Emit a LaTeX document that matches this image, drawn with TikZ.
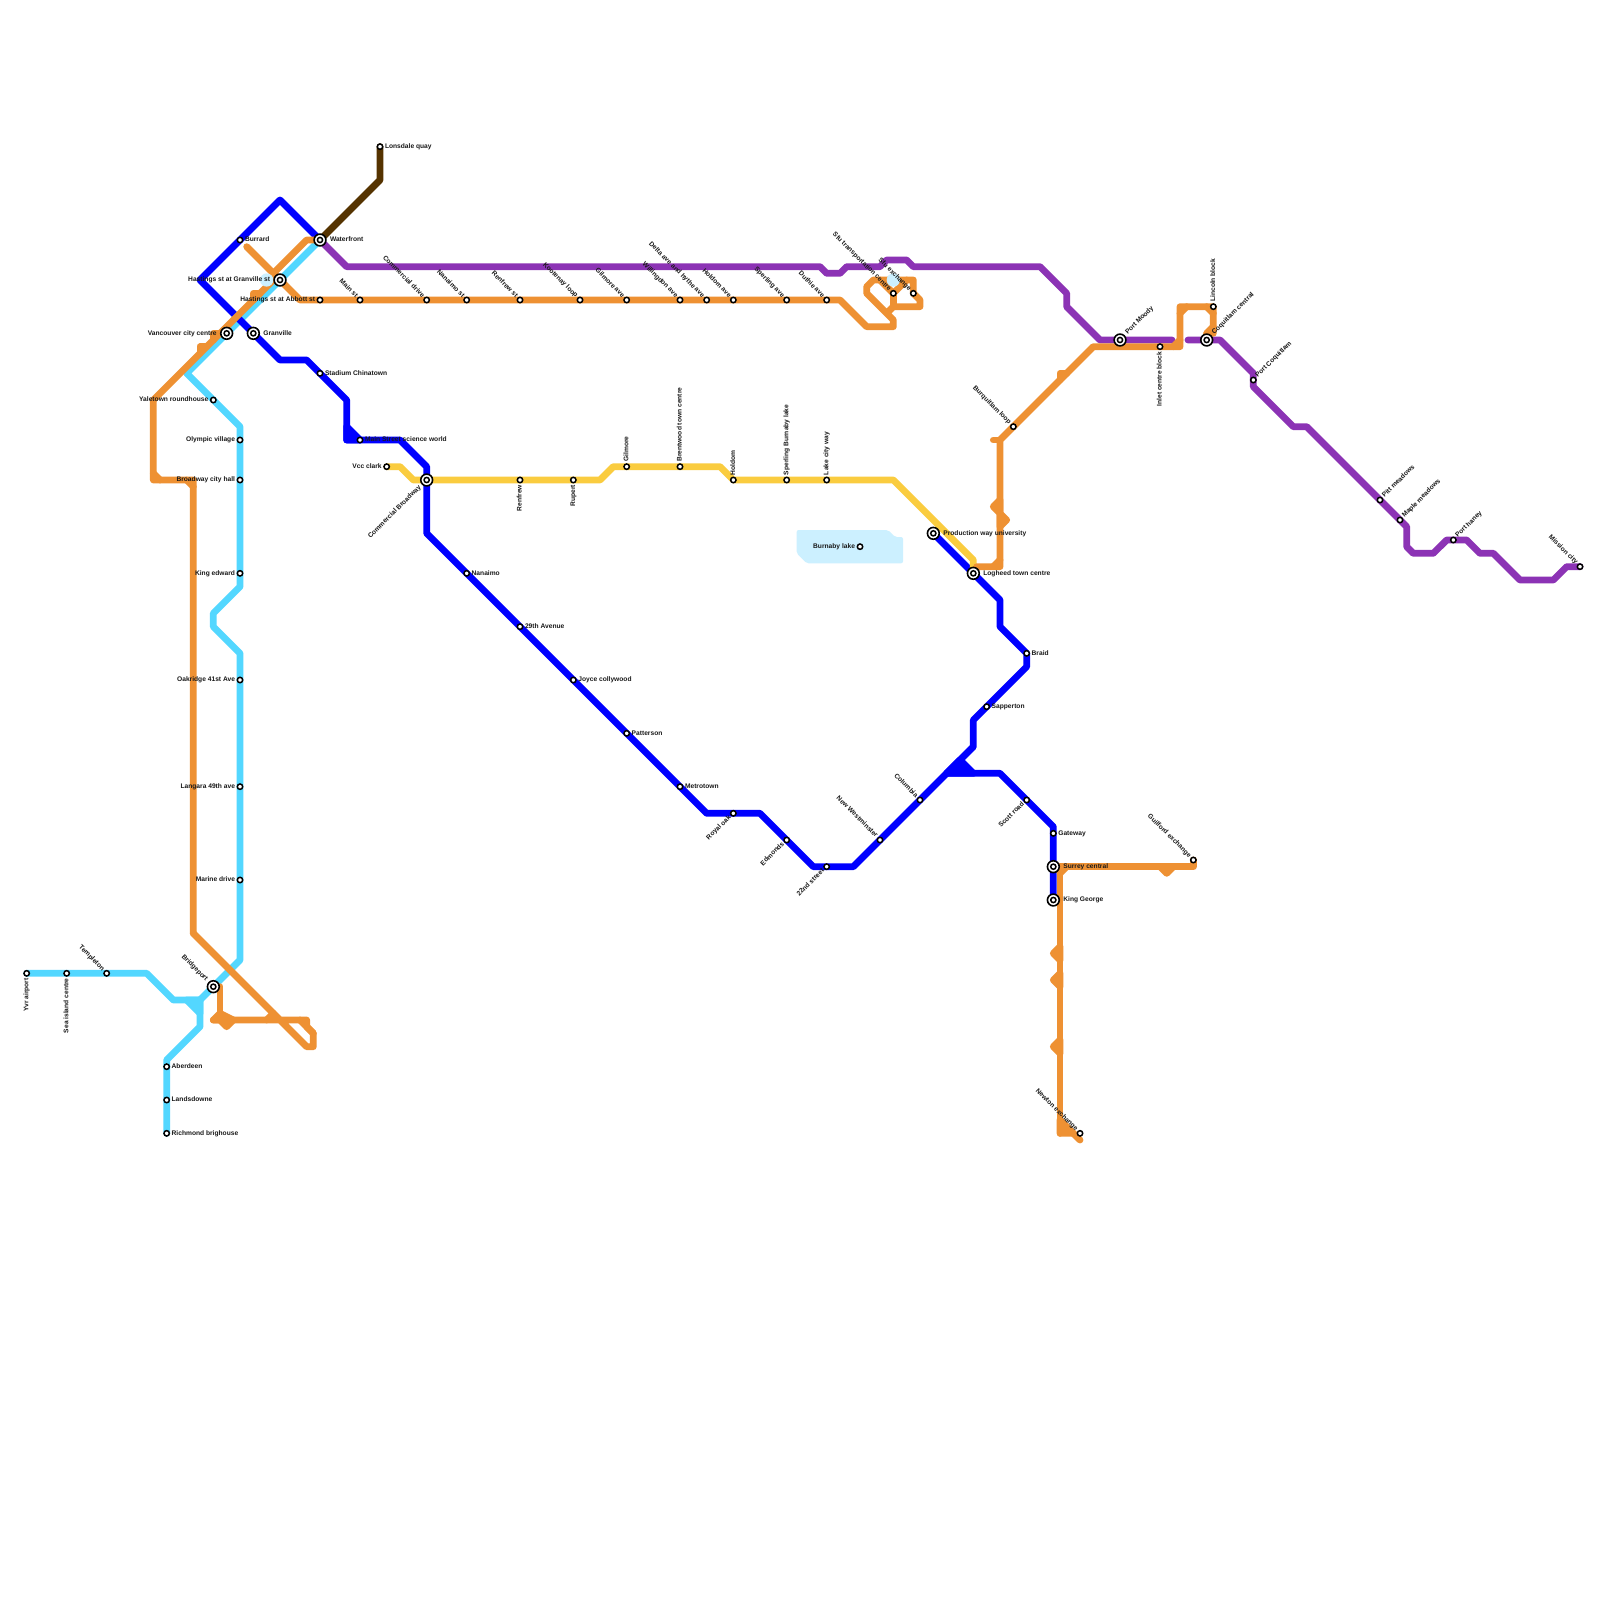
\documentclass[tikz,border=0pt]{standalone}
\usepackage{fontspec}
\setmainfont{Liberation Sans}
\definecolor{cCyan}{HTML}{53D7FF}
\definecolor{cBlue}{HTML}{0000FF}
\definecolor{cOrange}{HTML}{EE9133}
\definecolor{cYellow}{HTML}{FACC3F}
\definecolor{cPurple}{HTML}{8C33B5}
\definecolor{cBrown}{HTML}{553300}
\definecolor{cLake}{HTML}{CCF0FF}
\pgfdeclarelayer{lines}
\pgfsetlayers{lines,main}
\tikzset{
 metro/.style={line width=3.4pt,line cap=round,line join=round},
 stn/.style={circle,draw=black,fill=white,line width=.75pt,minimum size=2.7pt,inner sep=0pt,outer sep=0pt},
 bigstn/.style={circle,draw=black,fill=white,line width=.8pt,minimum size=5.9pt,inner sep=0pt,outer sep=0pt,
   path picture={\draw[line width=.75pt] (path picture bounding box.center) circle (1.3pt);}},
 lbl/.style={inner sep=0pt,outer sep=0pt,font=\bfseries\fontsize{3.33}{4}\selectfont,text height=2.4pt,text depth=.7pt,text=black!90},
 lE/.style={anchor=west,xshift=2.5pt},
 lW/.style={anchor=east,xshift=-2.5pt},
 lN/.style={yshift=2.5pt,rotate=90,anchor=west},
 lS/.style={yshift=-2.5pt,rotate=90,anchor=east},
 lNW/.style={shift={(-1.7pt,1.7pt)},rotate=-45,anchor=east},
 lSW/.style={shift={(-1.7pt,-1.7pt)},rotate=45,anchor=east},
 lNE/.style={shift={(1.7pt,1.7pt)},rotate=45,anchor=west},
 bE/.style={anchor=west,xshift=5pt},
 bW/.style={anchor=east,xshift=-5pt},
 bNW/.style={shift={(-3.3pt,3.3pt)},rotate=-45,anchor=east},
 bSW/.style={shift={(-3.3pt,-3.3pt)},rotate=45,anchor=east},
 bNE/.style={shift={(3.3pt,3.3pt)},rotate=45,anchor=west},
}
\newcommand\st[5][stn]{\node[#1] (#2) at (#3) {}; \node[lbl,#4] (#2-l) at (#2.center) {#5};}
\begin{document}
\begin{tikzpicture}[x=.5pt,y=-.5pt]
\useasboundingbox (0,0) rectangle (1600,1600);
% stations
\st{lonsdale}{380,146.67}{lE}{Lonsdale quay}
\st{burrard}{240,240}{lE}{Burrard}
\st[bigstn]{waterfront}{320,240}{bE}{Waterfront}
\st[bigstn]{hastgr}{280,280}{bW}{Hastings st at Granville st}
\st{abbott}{320,300}{lW}{Hastings st at Abbott st}
\st{mainst}{360,300}{lNW}{Main st}
\st{commdr}{426.67,300}{lNW}{Commercial drive}
\st{nanst}{466.67,300}{lNW}{Nanaimo st}
\st{renst}{520,300}{lNW}{Renfrew st}
\st{kootenay}{580,300}{lNW}{Kootenay loop}
\st{gilave}{626.67,300}{lNW}{Gilmore ave}
\st{willing}{680,300}{lNW}{Willingdon ave}
\st{delta}{706.67,300}{lNW}{Delta ave and hythe ave}
\st{holave}{733.33,300}{lNW}{Holdom ave}
\st{spave}{786.67,300}{lNW}{Sperling ave}
\st{duthie}{826.67,300}{lNW}{Duthie ave}
\st{sfutc}{893.33,293.33}{lNW}{Sfu transportation centre}
\st{sfuex}{913.33,293.33}{lNW}{Sfu exchange}
\st[bigstn]{vcc}{226.67,333.33}{bW}{Vancouver city centre}
\st[bigstn]{granville}{253.33,333.33}{bE}{Granville}
\st{stadium}{320,373.33}{lE}{Stadium Chinatown}
\st{yaletown}{213.33,400}{lW}{Yaletown roundhouse}
\st{olympic}{240,440}{lW}{Olympic village}
\st{broadway}{240,480}{lW}{Broadway city hall}
\st{kinged}{240,573.33}{lW}{King edward}
\st{oakridge}{240,680}{lW}{Oakridge 41st Ave}
\st{langara}{240,786.67}{lW}{Langara 49th ave}
\st{marine}{240,880}{lW}{Marine drive}
\st{mainsci}{360,440}{lE}{Main Street science world}
\st{vccclark}{386.67,466.67}{lW}{Vcc clark}
\st[bigstn]{commbr}{426.67,480}{bSW}{Commercial Broadway}
\st{renfrew}{520,480}{lS}{Renfrew}
\st{rupert}{573.33,480}{lS}{Rupert}
\st{gilmore}{626.67,466.67}{lN}{Gilmore}
\st{brentwood}{680,466.67}{lN}{Brentwood town centre}
\st{holdom}{733.33,480}{lN}{Holdom}
\st{sperling}{786.67,480}{lN}{Sperling Burnaby lake}
\st{lakecity}{826.67,480}{lN}{Lake city way}
\st{nanaimo}{466.67,573.33}{lE}{Nanaimo}
\st{ave29}{520,626.67}{lE}{29th Avenue}
\st{joyce}{573.33,680}{lE}{Joyce collywood}
\st{patterson}{626.67,733.33}{lE}{Patterson}
\st{metrotown}{680,786.67}{lE}{Metrotown}
\st{royaloak}{733.33,813.33}{lSW}{Royal oak}
\st{edmonds}{786.67,840}{lSW}{Edmonds}
\st{street22}{826.67,866.67}{lSW}{22nd street}
\st{newwest}{880,840}{lNW}{New Westminster}
\st{columbia}{920,800}{lNW}{Columbia}
\st{scott}{1026.67,800}{lSW}{Scott road}
\st{gateway}{1053.33,833.33}{lE}{Gateway}
\st[bigstn]{surrey}{1053.33,866.67}{bE}{Surrey central}
\st[bigstn]{kinggeorge}{1053.33,900}{bE}{King George}
\st{guilford}{1193.33,860}{lNW}{Guilford exchange}
\st{newton}{1080,1133.33}{lNW}{Newton exchange}
\st{sapperton}{986.67,706.67}{lE}{Sapperton}
\st{braid}{1026.67,653.33}{lE}{Braid}
\st[bigstn]{logheed}{973.33,573.33}{bE}{Logheed town centre}
\st[bigstn]{production}{933.33,533.33}{bE}{Production way university}
\st{burnaby}{860,546.67}{lW}{Burnaby lake}
\st{burquitlam}{1013.33,426.67}{lNW}{Burquitlam loop}
\st[bigstn]{portmoody}{1120,340}{bNE}{Port Moody}
\st{inlet}{1160,346.67}{lS}{Inlet centre block}
\st{lincoln}{1213.33,306.67}{lN}{Lincoln block}
\st[bigstn]{coquitlam}{1206.67,340}{bNE}{Coquitlam central}
\st{portcoq}{1253.33,380}{lNE}{Port Coquitlam}
\st{pitt}{1380,500}{lNE}{Pitt meadows}
\st{maple}{1400,520}{lNE}{Maple meadows}
\st{haney}{1453.33,540}{lNE}{Port haney}
\st{mission}{1580,566.67}{lNW}{Mission city}
\st{yvr}{26.67,973.33}{lS}{Yvr airport}
\st{seaisland}{66.67,973.33}{lS}{Sea island centre}
\st{templeton}{106.67,973.33}{lNW}{Templeton}
\st[bigstn]{bridgeport}{213.33,986.67}{bNW}{Bridgeport}
\st{aberdeen}{166.67,1066.67}{lE}{Aberdeen}
\st{landsdowne}{166.67,1100}{lE}{Landsdowne}
\st{richmond}{166.67,1133.33}{lE}{Richmond brighouse}
\begin{pgfonlayer}{lines}
\fill[white] (0,0) rectangle (1600,1600);
% lake
\fill[cLake,rounded corners=1pt] (796.67,530) -- (888,530) -- (895,537) -- (903,537) -- (903,563.33) -- (806.67,563.33) -- (796.67,553.33) -- cycle;
% cyan
\draw[metro,cCyan] (yvr.center) -- (146.67,973.33) -- (173.33,1000) -- (200,1000) -- (200,1026.67) -- (166.67,1060) -- (richmond.center);
\draw[metro,cCyan,fill=cCyan] (186.67,1000) -- (200,1000) -- (200,1013.33) -- cycle;
\draw[metro,cCyan] (200,1000) -- (bridgeport.center) -- (240,960) -- (240,653.33) -- (213.33,626.67) -- (213.33,613.33) -- (240,586.67) -- (240,426.67) -- (186.67,373.33) -- (waterfront.center);
% brown
\draw[metro,cBrown] (waterfront.center) -- (380,180) -- (lonsdale.center);
% purple
\draw[metro,cPurple] (waterfront.center) -- (346.67,266.67) -- (820,266.67) -- (826.67,273.33) -- (840,273.33) -- (846.67,266.67) -- (880,266.67) -- (886.67,260) -- (906.67,260) -- (913.33,266.67) -- (1040,266.67) -- (1066.67,293.33) -- (1066.67,306.67) -- (1100,340) -- (1172,340);
\draw[metro,cPurple] (1188,340) -- (1220,340) -- (1253.33,373.33) -- (1253.33,386.67) -- (1293.33,426.67) -- (1306.67,426.67) -- (maple.center) -- (1406.67,526.67) -- (1406.67,546.67) -- (1413.33,553.33) -- (1433.33,553.33) -- (1446.67,540) -- (1466.67,540) -- (1480,553.33) -- (1493.33,553.33) -- (1520,580) -- (1553.33,580) -- (1566.67,566.67) -- (mission.center);
% blue
\draw[metro,cBlue] (waterfront.center) -- (280,200) -- (200,280) -- (280,360) -- (306.67,360) -- (346.67,400) -- (346.67,440) -- (400,440) -- (426.67,466.67) -- (426.67,533.33) -- (706.67,813.33) -- (760,813.33) -- (813.33,866.67) -- (853.33,866.67) -- (973.33,746.67) -- (973.33,720) -- (1026.67,666.67) -- (braid.center) -- (1000,626.67) -- (1000,600) -- (production.center);
\draw[metro,cBlue,fill=cBlue] (346.67,426.67) -- (mainsci.center) -- (346.67,440) -- cycle;
\draw[metro,cBlue] (946.67,773.33) -- (1000,773.33) -- (1053.33,826.67) -- (kinggeorge.center);
\draw[metro,cBlue,fill=cBlue] (946.67,773.33) -- (960,760) -- (973.33,773.33) -- cycle;
% yellow
\draw[metro,cYellow] (vccclark.center) -- (400,466.67) -- (413.33,480) -- (600,480) -- (613.33,466.67) -- (720,466.67) -- (733.33,480) -- (893.33,480) -- (973.33,560) -- (logheed.center);
% orange
\draw[metro,cOrange] (246.67,246.67) -- (300,300) -- (840,300) -- (866.67,326.67) -- (893.33,326.67) -- (893.33,320) -- (866.67,293.33) -- (866.67,286.67) -- (873.33,280) -- (913.33,280) -- (913.33,293.33) -- (920,300) -- (920,306.67) -- (893.33,306.67) -- (886.67,313.33);
\draw[metro,cOrange] (880,280) -- (sfutc.center) -- (906.67,280);
\draw[metro,cOrange] (sfutc.center) -- (893.33,306.67);
\draw[metro,cOrange] (193.33,933.33) -- (193.33,480) -- (153.33,480) -- (153.33,400) -- (273.33,280) -- (hastgr.center) -- (273.33,273.33) -- (306.67,240) -- (waterfront.center);
\draw[metro,cOrange] (153.33,473.33) -- (160,480);
\draw[metro,cOrange] (186.67,480) -- (193.33,486.67);
\draw[metro,cOrange] (253.33,300) -- (253.33,293.33) -- (260,293.33);
\draw[metro,cOrange] (213.33,340) -- (213.33,333.33) -- (vcc.center);
\draw[metro,cOrange] (200,353.33) -- (200,346.67) -- (206.67,346.67);
\draw[metro,cOrange] (193.33,933.33) -- (306.67,1046.67) -- (313.33,1046.67) -- (313.33,1033.33) -- (306.67,1026.67) -- (306.67,1020) -- (213.33,1020);
\draw[metro,cOrange] (300,1020) -- (313.33,1033.33);
\draw[metro,cOrange] (220,986.67) -- (220,1013.33);
\draw[metro,cOrange,fill=cOrange] (213.33,1020) -- (220,1013.33) -- (233.33,1020) -- (226.67,1026.67) -- (220,1020) -- cycle;
\draw[metro,cOrange] (266.67,1020) -- (273.33,1013.33);
\draw[metro,cOrange] (976.67,566.67) -- (1000,566.67) -- (1000,440) -- (1093.33,346.67) -- (1180,346.67) -- (1180,306.67) -- (lincoln.center) -- (1213.33,333.33) -- (1206.67,333.33) -- (coquitlam.center);
\draw[metro,cOrange] (993.33,566.67) -- (1000,560);
\draw[metro,cOrange] (1173.33,346.67) -- (1180,340);
\draw[metro,cOrange] (1180,313.33) -- (1186.67,306.67);
\draw[metro,cOrange] (1206.67,306.67) -- (1213.33,313.33);
\draw[metro,cOrange] (1213.33,326.67) -- (1206.67,333.33);
\draw[metro,cOrange] (993.33,440) -- (1000,440);
\draw[metro,cOrange,fill=cOrange] (1000,500) -- (993.33,506.67) -- (1000,513.33) -- (1006.67,520) -- (1000,526.67) -- cycle;
\draw[metro,cOrange] (1060,380) -- (1060,373.33) -- (1066.67,373.33);
\draw[metro,cOrange] (guilford.center) -- (1193.33,866.67) -- (1060,866.67) -- (1060,1133.33);
\draw[metro,cOrange] (1066.67,866.67) -- (1060,873.33);
\draw[metro,cOrange,fill=cOrange] (1160,866.67) -- (1166.67,873.33) -- (1173.33,866.67) -- cycle;
\draw[metro,cOrange,fill=cOrange] (1060,946.67) -- (1053.33,953.33) -- (1060,960) -- cycle;
\draw[metro,cOrange,fill=cOrange] (1060,973.33) -- (1053.33,980) -- (1060,986.67) -- cycle;
\draw[metro,cOrange,fill=cOrange] (1060,1040) -- (1053.33,1046.67) -- (1060,1053.33) -- cycle;
\draw[metro,cOrange,fill=cOrange] (1060,1120) -- (1073.33,1133.33) -- (1060,1133.33) -- cycle;
\draw[metro,cOrange] (1073.33,1133.33) -- (1080,1140);
% pale circles
\fill[cLake] (266.67,280) circle (3.33pt);
\fill[cLake] (893.33,280) circle (3.33pt);
\end{pgfonlayer}
\end{tikzpicture}
\end{document}
